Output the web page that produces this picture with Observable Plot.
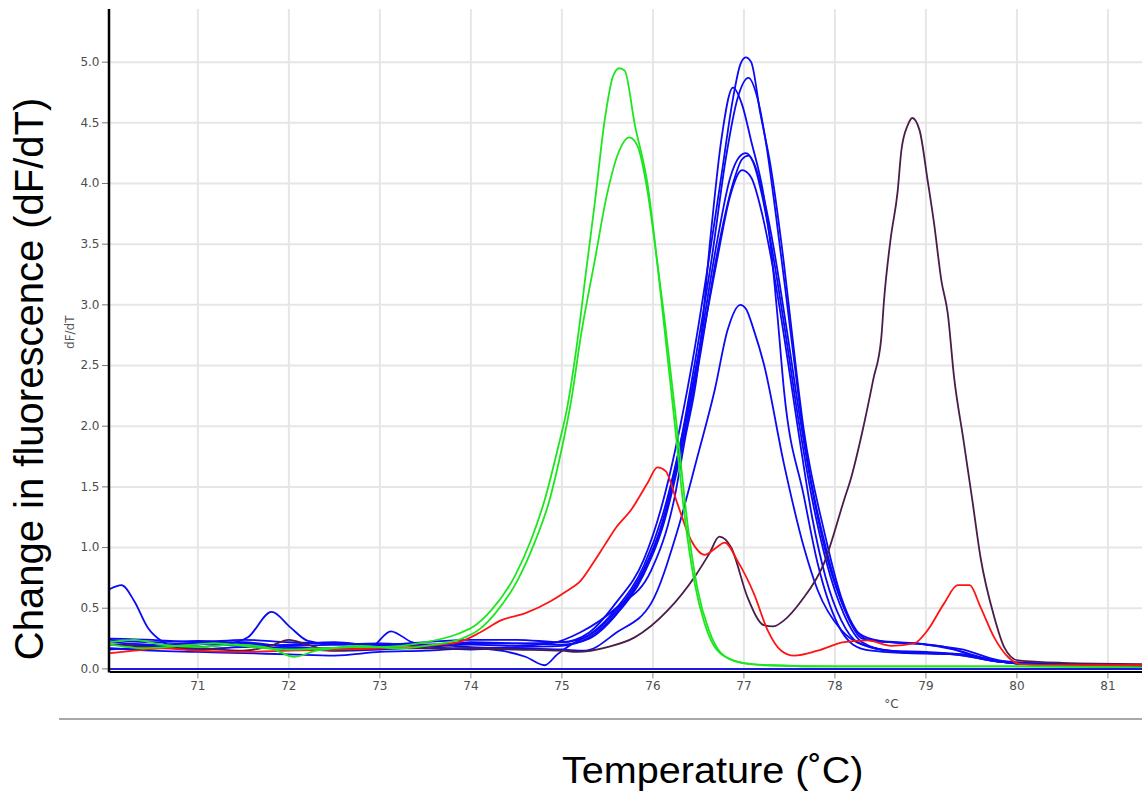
<!DOCTYPE html>
<html>
<head>
<meta charset="utf-8">
<script src="https://cdn.jsdelivr.net/npm/d3@7"></script>
<script src="https://cdn.jsdelivr.net/npm/@observablehq/plot@0.6"></script>
<style>
  html, body { margin: 0; padding: 0; background: #fff; }
  #wrap { position: relative; width: 1142px; height: 798px; background: #fff; overflow: hidden; }
  #chart { position: absolute; left: 0; top: 0; }
  #baseLine { position: absolute; left: 59px; right: 0; top: 718px; border-top: 2px solid #a8a8a8; }
  #xTitle { position: absolute; left: 562px; top: 753px; font-family: "Liberation Sans", Arial, sans-serif; font-size: 36px; line-height: 36px; color: #000; white-space: nowrap; transform: scaleX(1.1); transform-origin: left top; }
</style>
</head>
<body>
<div id="wrap">
  <div id="chart"></div>
  <div id="baseLine"></div>
  <div id="xTitle">Temperature (˚C)</div>
</div>
<script>
// ---- axes / ticks ----
const xDomain = [70.04, 81.38];
const yDomain = [0, 5.434];
const xTicks = [71, 72, 73, 74, 75, 76, 77, 78, 79, 80, 81];
const yTicks = [0, 0.5, 1.0, 1.5, 2.0, 2.5, 3.0, 3.5, 4.0, 4.5, 5.0];
const yTitle = "Change in fluorescence (dF/dT)";
const yUnit = "dF/dT";
const xUnit = "°C";

// ---- series: temperatures (T) and dF/dT values (Y) ----
const greenA_T = [70.04,70.3,70.6,71.0,71.4,71.8,72.06,72.3,72.7,73.0,73.5,73.86,74.05,74.22,74.48,74.66,74.81,74.95,75.06,75.17,75.27,75.36,75.47,75.56,75.63,75.69,75.8,75.94,76.09,76.24,76.35,76.46,76.57,76.71,76.93,77.26,78.0,79.0,80.0,81.38];
const greenA_Y = [0.22,0.24,0.2,0.18,0.2,0.17,0.10,0.15,0.18,0.18,0.22,0.29,0.36,0.48,0.76,1.06,1.39,1.8,2.16,2.7,3.3,3.83,4.52,4.88,4.95,4.93,4.49,4.0,3.06,2.02,1.25,0.70,0.37,0.15,0.06,0.03,0.02,0.02,0.02,0.01];

const greenB_T = [70.04,70.4,70.8,71.2,71.6,72.0,72.4,72.8,73.2,73.6,73.9,74.1,74.27,74.52,74.7,74.86,75.0,75.1,75.21,75.36,75.49,75.63,75.74,75.83,75.94,76.04,76.13,76.27,76.38,76.49,76.61,76.75,76.97,77.3,78.0,79.0,80.0,81.38];
const greenB_Y = [0.2,0.17,0.19,0.21,0.18,0.16,0.17,0.19,0.17,0.2,0.25,0.33,0.46,0.74,1.04,1.38,1.82,2.2,2.75,3.36,3.89,4.27,4.38,4.31,3.94,3.4,2.87,1.95,1.2,0.66,0.33,0.13,0.05,0.03,0.02,0.02,0.02,0.01];

const red_T = [70.04,70.3,70.6,71.0,71.5,72.0,72.5,73.0,73.5,73.86,74.1,74.33,74.6,74.88,75.05,75.21,75.35,75.47,75.6,75.76,75.94,76.05,76.14,76.27,76.42,76.57,76.68,76.79,76.93,77.11,77.26,77.41,77.55,77.81,78.1,78.36,78.62,78.87,79.02,79.2,79.35,79.48,79.6,79.75,79.9,80.04,80.5,81.38];
const red_Y = [0.13,0.15,0.17,0.15,0.14,0.15,0.16,0.17,0.19,0.22,0.30,0.40,0.46,0.56,0.64,0.73,0.88,1.02,1.17,1.31,1.53,1.66,1.63,1.36,1.06,0.94,0.99,1.04,0.89,0.62,0.32,0.15,0.11,0.15,0.22,0.235,0.19,0.21,0.32,0.54,0.69,0.69,0.51,0.26,0.10,0.04,0.03,0.03];

const purple_T = [70.04,70.5,71.0,71.5,71.8,72.0,72.2,72.5,73.0,73.5,74.0,74.5,75.0,75.17,75.5,75.8,76.16,76.46,76.62,76.73,76.86,77.04,77.22,77.32,77.44,77.63,77.88,78.1,78.18,78.3,78.42,78.51,78.54,78.61,78.69,78.73,78.8,78.85,78.93,79.02,79.09,79.17,79.24,79.31,79.41,79.51,79.6,79.75,79.86,80.01,80.5,81.38];
const purple_Y = [0.2,0.18,0.17,0.15,0.19,0.24,0.2,0.15,0.17,0.17,0.17,0.16,0.15,0.14,0.18,0.26,0.48,0.76,0.95,1.09,1.0,0.59,0.36,0.35,0.40,0.56,0.87,1.39,1.58,1.95,2.38,2.73,3.04,3.53,3.94,4.27,4.48,4.54,4.44,4.02,3.67,3.2,2.93,2.40,1.9,1.39,0.92,0.43,0.18,0.07,0.05,0.04];

const blue1_T = [70.04,70.16,70.3,70.45,70.6,70.8,71.0,71.3,71.55,71.81,72.02,72.21,72.5,73.0,73.5,74.0,74.5,75.0,75.3,75.6,75.9,76.1,76.3,76.45,76.6,76.75,76.88,76.96,77.02,77.08,77.18,77.29,77.44,77.52,77.66,77.88,78.07,78.2,78.36,78.6,78.91,79.27,79.64,80.0,80.5,81.38];
const blue1_Y = [0.66,0.69,0.56,0.34,0.23,0.17,0.18,0.20,0.26,0.47,0.34,0.23,0.20,0.20,0.20,0.21,0.21,0.22,0.30,0.55,0.90,1.35,2.0,2.6,3.3,4.05,4.7,4.98,5.04,5.0,4.58,4.16,3.34,2.82,1.96,1.14,0.59,0.36,0.24,0.22,0.21,0.17,0.08,0.05,0.04,0.03];

const blue2_T = [70.04,70.5,71.0,71.5,72.0,72.5,73.0,73.5,74.0,74.5,75.0,75.3,75.6,75.9,76.1,76.3,76.5,76.65,76.8,76.93,77.05,77.15,77.25,77.35,77.46,77.55,77.68,77.9,78.1,78.25,78.5,78.9,79.3,79.7,80.0,80.5,81.38];
const blue2_Y = [0.25,0.24,0.22,0.24,0.22,0.21,0.20,0.22,0.24,0.24,0.22,0.28,0.48,0.82,1.2,1.85,2.7,3.4,4.2,4.7,4.87,4.7,4.3,3.75,3.1,2.55,1.8,1.0,0.5,0.3,0.23,0.21,0.16,0.08,0.05,0.04,0.03];

const blue3_T = [70.04,70.5,71.0,71.5,72.0,72.5,73.0,73.5,74.0,74.5,74.88,75.2,75.61,75.98,76.24,76.35,76.49,76.64,76.75,76.88,76.98,77.08,77.22,77.3,77.37,77.44,77.66,77.81,78.03,78.2,78.4,78.8,79.3,79.8,80.1,80.6,81.38];
const blue3_Y = [0.20,0.19,0.16,0.18,0.17,0.15,0.16,0.18,0.20,0.19,0.21,0.30,0.51,0.81,1.42,1.88,2.45,3.61,4.35,4.79,4.65,4.35,3.89,3.45,2.9,2.3,1.42,0.87,0.37,0.2,0.15,0.13,0.12,0.06,0.04,0.03,0.03];

const blue4_T = [70.04,70.5,71.0,71.5,72.0,72.5,73.0,73.5,74.0,74.33,74.6,74.81,74.95,75.1,75.3,75.6,75.9,76.1,76.3,76.5,76.7,76.85,76.95,77.02,77.1,77.2,77.3,77.45,77.6,77.75,77.9,78.1,78.3,78.6,79.0,79.4,79.8,80.1,80.6,81.38];
const blue4_Y = [0.17,0.15,0.14,0.13,0.12,0.11,0.14,0.15,0.17,0.15,0.10,0.03,0.12,0.2,0.28,0.5,0.85,1.25,1.85,2.6,3.5,4.05,4.22,4.25,4.18,3.9,3.5,2.8,2.05,1.4,0.9,0.45,0.22,0.15,0.14,0.12,0.06,0.04,0.03,0.03];

const blue5_T = [70.04,70.5,71.0,71.5,72.0,72.5,73.0,73.5,74.0,74.5,75.0,75.3,75.6,75.9,76.1,76.3,76.5,76.7,76.88,76.98,77.05,77.12,77.22,77.32,77.47,77.62,77.77,77.92,78.12,78.3,78.6,79.0,79.4,79.8,80.1,80.6,81.38];
const blue5_Y = [0.24,0.22,0.23,0.21,0.19,0.2,0.21,0.19,0.22,0.21,0.2,0.25,0.45,0.78,1.15,1.75,2.5,3.4,4.0,4.2,4.23,4.15,3.88,3.5,2.8,2.05,1.4,0.9,0.47,0.25,0.22,0.2,0.16,0.07,0.05,0.04,0.03];

const blue6_T = [70.04,70.5,71.0,71.5,72.0,72.5,72.9,73.12,73.35,73.6,74.0,74.5,75.0,75.3,75.6,75.9,76.1,76.3,76.5,76.7,76.85,76.98,77.08,77.2,77.32,77.45,77.6,77.75,77.9,78.07,78.25,78.6,79.0,79.4,79.8,80.1,80.6,81.38];
const blue6_Y = [0.16,0.18,0.2,0.22,0.18,0.17,0.18,0.31,0.22,0.18,0.16,0.18,0.19,0.26,0.46,0.8,1.18,1.8,2.55,3.35,3.9,4.11,4.05,3.75,3.3,2.7,1.95,1.25,0.75,0.4,0.22,0.15,0.13,0.12,0.06,0.04,0.03,0.03];

const blue7_T = [70.04,70.5,71.0,71.5,72.0,72.5,73.0,73.5,74.0,74.5,75.0,75.25,75.6,75.98,76.27,76.49,76.68,76.82,76.96,77.02,77.11,77.22,77.44,77.66,77.81,78.07,78.3,78.7,79.3,79.8,80.1,80.6,81.38];
const blue7_Y = [0.22,0.2,0.21,0.19,0.2,0.22,0.19,0.2,0.18,0.17,0.16,0.15,0.3,0.54,1.14,1.75,2.3,2.79,3.0,2.97,2.79,2.51,1.69,1.0,0.65,0.32,0.2,0.14,0.12,0.06,0.04,0.03,0.03];

const seriesNames  = ["blue1","blue2","blue3","blue4","blue5","blue6","blue7","purple","red","greenA","greenB"];
const seriesColors = ["#0a0af5","#0a0af5","#0a0af5","#0a0af5","#0a0af5","#0a0af5","#0a0af5","#4a1c48","#ff1414","#1ee61e","#1ee61e"];
const seriesT = [blue1_T,blue2_T,blue3_T,blue4_T,blue5_T,blue6_T,blue7_T,purple_T,red_T,greenA_T,greenB_T];
const seriesY = [blue1_Y,blue2_Y,blue3_Y,blue4_Y,blue5_Y,blue6_Y,blue7_Y,purple_Y,red_Y,greenA_Y,greenB_Y];

const rows = seriesNames.flatMap((name, s) =>
  seriesT[s].map((t, i) => ({series: name, color: seriesColors[s], t, v: seriesY[s][i]})));

const chart = Plot.plot({
  width: 1142,
  height: 718,
  marginLeft: 110,
  marginRight: 0,
  marginTop: 9,
  marginBottom: 49.6,
  x: {domain: xDomain},
  y: {domain: yDomain},
  color: {type: "identity"},
  style: {fontFamily: "'DejaVu Sans', sans-serif", fontSize: "12px", color: "#4d4d4d", background: "#fff", overflow: "visible"},
  marks: [
    Plot.gridX(xTicks, {stroke: "#e6e6e6", strokeOpacity: 1, strokeWidth: 2}),
    Plot.gridY(yTicks.slice(1), {stroke: "#e6e6e6", strokeOpacity: 1, strokeWidth: 2}),
    Plot.axisY(yTicks, {tickFormat: d3.format(".1f"), tickSize: 8, tickPadding: 3, label: null, stroke: "#777", fill: "#4d4d4d", fontSize: 12}),
    Plot.axisX(xTicks, {tickFormat: d => String(d), tickSize: 6, tickPadding: 3, label: null, dy: 4, stroke: "#888", fill: "#4d4d4d", fontSize: 12}),
    Plot.line(rows, {x: "t", y: "v", z: "series", stroke: "color", strokeWidth: 1.8, curve: "monotone-x"}),
    Plot.ruleY([0], {stroke: "#1a1ae0", strokeWidth: 2}),
    Plot.ruleY([0], {stroke: "#000", strokeWidth: 2, dy: 3}),
    Plot.ruleX([xDomain[0]], {stroke: "#000", strokeWidth: 2.5, dx: -1.5, insetBottom: -4}),
    Plot.text([yUnit], {frameAnchor: "left", textAnchor: "middle", rotate: -90, dx: -40, dy: -7, fontSize: 12, fill: "#555"}),
    Plot.text([xUnit], {frameAnchor: "bottom-left", textAnchor: "middle", dx: 781, dy: 39, fontSize: 12, fill: "#4d4d4d"}),
    Plot.text([yTitle], {frameAnchor: "left", textAnchor: "middle", rotate: -90, dx: -80, dy: 39.7, fontSize: 40, fill: "#000", fontFamily: "'Liberation Sans', Arial, sans-serif"})
  ]
});
document.getElementById("chart").appendChild(chart);
</script>
</body>
</html>
